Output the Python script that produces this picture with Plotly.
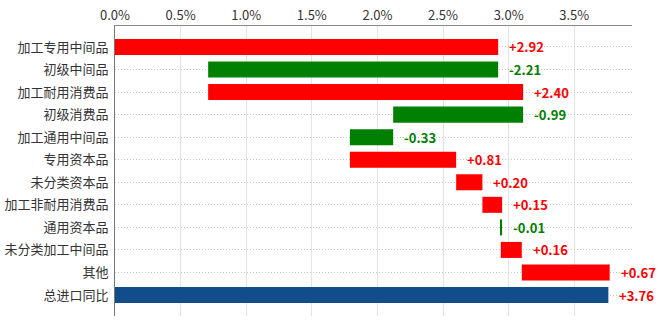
import plotly.graph_objects as go

categories = ["加工专用中间品", "初级中间品", "加工耐用消费品", "初级消费品", "加工通用中间品",
              "专用资本品", "未分类资本品", "加工非耐用消费品", "通用资本品", "未分类加工中间品",
              "其他", "总进口同比"]
changes = [2.92, -2.21, 2.40, -0.99, -0.33, 0.81, 0.20, 0.15, -0.01, 0.16, 0.67]
total = 3.76
tick_vals = [0, 0.5, 1.0, 1.5, 2.0, 2.5, 3.0, 3.5]
tick_text = ["0.0%", "0.5%", "1.0%", "1.5%", "2.0%", "2.5%", "3.0%", "3.5%"]

RED = "#ff0000"
GREEN = "#008000"
BLUE = "#114d8b"

bases, widths, colors, labels, label_x, label_colors = [], [], [], [], [], []
cum = 0.0
for v in changes:
    start, end = cum, cum + v
    bases.append(min(start, end))
    widths.append(abs(v))
    colors.append(RED if v >= 0 else GREEN)
    labels.append(f"{v:+.2f}")
    label_x.append(max(start, end))
    label_colors.append(RED if v >= 0 else GREEN)
    cum = end
bases.append(0)
widths.append(total)
colors.append(BLUE)
labels.append(f"{total:+.2f}")
label_x.append(total)
label_colors.append(RED)

fig = go.Figure()
fig.add_trace(go.Bar(
    y=categories, x=widths, base=bases, orientation="h",
    marker=dict(color=colors, line=dict(width=0)),
    width=0.71, hoverinfo="skip",
))

for c, xv, t, col in zip(categories, label_x, labels, label_colors):
    fig.add_annotation(x=xv, y=c, text=f"<b>{t}</b>", showarrow=False,
                       xanchor="left", yanchor="middle", xshift=9,
                       font=dict(size=13, color=col, family="Noto Sans CJK SC"))

fig.update_layout(
    width=660, height=323,
    margin=dict(l=115, r=28, t=26, b=7),
    plot_bgcolor="white", paper_bgcolor="white",
    showlegend=False,
    font=dict(family="Noto Sans CJK SC", size=13, color="#333333"),
    xaxis=dict(
        side="top", range=[0, 3.94], tickvals=tick_vals, ticktext=tick_text,
        showgrid=True, gridcolor="#e3e3e3", gridwidth=1,
        showline=True, linecolor="#888888", linewidth=1,
        ticks="", zeroline=False, automargin=False,
        tickfont=dict(size=13, color="#333333"),
    ),
    yaxis=dict(
        type="category", range=[11.93, -0.93],
        showgrid=True, gridcolor="#c8c8c8", griddash="1px,2px", gridwidth=1,
        showline=True, linecolor="#777777", linewidth=1,
        ticks="", ticklabelstandoff=3, automargin=False,
        tickfont=dict(size=13, color="#333333"),
    ),
)

fig.write_html("out.html")
